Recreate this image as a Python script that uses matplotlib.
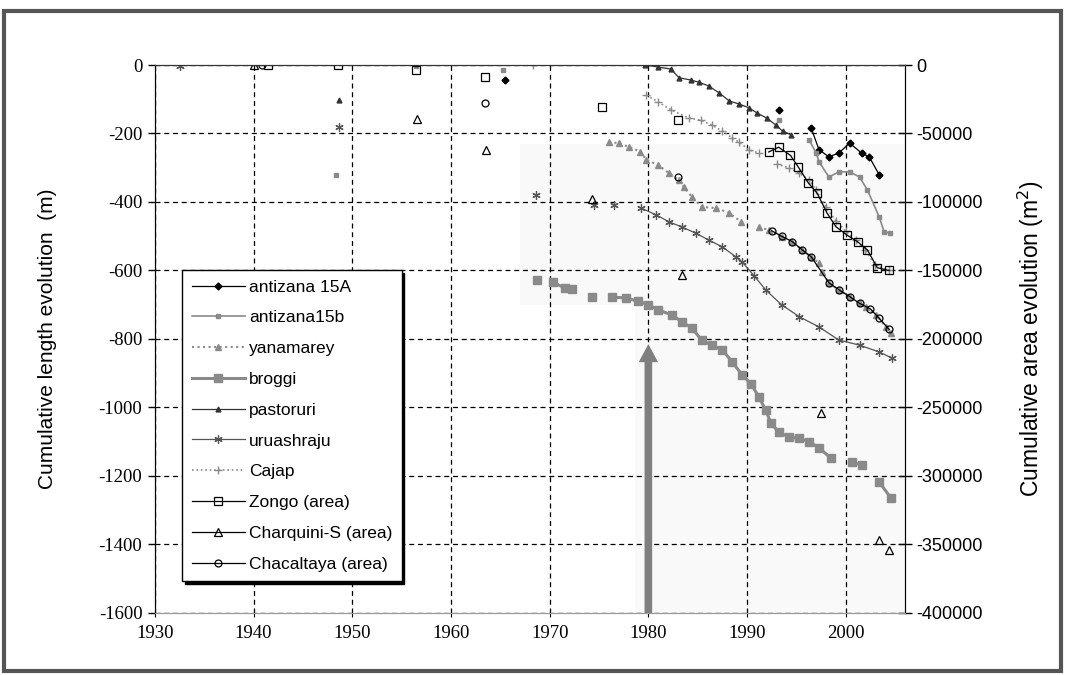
import numpy as np
import matplotlib
matplotlib.use("Agg")
import matplotlib.pyplot as plt
import matplotlib.patches as patches

nan = np.nan

# --- length series (m), nan = gap in the line ---
antizana15a_year = [1965.5, nan, 1993.2, nan, 1996.5, 1997.3, 1998.3, 1999.3, 2000.4, 2001.6, 2002.4, 2003.4]
antizana15a_len = [-44, nan, -131, nan, -184, -248, -268, -257, -228, -257, -269, -321]

antizana15b_year = [1948.3, nan, 1956.5, nan, 1965.3, nan, 1993.2, nan,
                    1996.3, 1997.0, 1997.3, 1998.3, 1999.3, 2000.4, 2001.4, 2002.2, 2003.4, 2003.9, 2004.5]
antizana15b_len = [-321, nan, -3, nan, -15, nan, -161, nan,
                   -219, -257, -283, -327, -312, -312, -327, -365, -444, -488, -490]

yanamarey_year = [1976.0, 1977.0, 1978.0, 1979.2, 1979.8, 1981.0, 1982.1, 1983.1, 1983.6, 1984.4,
                  1985.4, 1986.9, 1988.2, 1989.4, nan,
                  1991.2, 1992.2, 1993.5, 1994.6, 1995.6, 1996.5, 1997.3, 1997.6, 1998.3, 1999.3,
                  2000.4, 2001.4, 2002.1, 2003.1, 2004.1, 2004.6]
yanamarey_len = [-225, -228, -239, -253, -277, -292, -316, -336, -356, -385,
                 -414, -418, -432, -458, nan,
                 -473, -482, -502, -517, -540, -561, -578, -604, -637, -657,
                 -677, -695, -706, -730, -765, -783]

broggi_year = [1968.7, nan, 1970.3, 1971.6, 1972.3, nan, 1974.3, nan, 1976.3, 1977.7, 1979.0, 1980.0,
               1981.0, 1982.4, 1983.4, 1984.4, 1985.4, 1986.4, 1987.5, 1988.5, 1989.5, 1990.4,
               1991.2, 1991.9, 1992.4, 1993.2, 1994.3, 1995.3, 1996.3, 1997.3, 1998.5, nan,
               2000.6, 2001.6, nan, 2003.4, 2004.6]
broggi_len = [-628, nan, -634, -652, -655, nan, -677, nan, -678, -680, -690, -700,
              -715, -730, -750, -768, -803, -818, -832, -867, -905, -930,
              -970, -1008, -1045, -1072, -1086, -1090, -1100, -1118, -1148, nan,
              -1160, -1168, nan, -1218, -1265]

pastoruri_year = [1948.6, nan, 1979.7, 1981.0, 1982.3, 1983.1, 1984.3, 1985.1, 1986.1, 1987.2,
                  1988.2, 1989.2, 1990.2, 1991.0, 1992.0, 1992.9, 1993.6, 1994.5]
pastoruri_len = [-102, nan, 0, -6, -12, -37, -44, -50, -61, -82,
                 -105, -114, -125, -140, -155, -175, -193, -204]

uruashraju_year = [1932.5, nan, 1948.6, nan, 1968.6, nan, 1974.5, nan, 1976.5, nan,
                   1979.3, 1980.8, 1982.1, 1983.4, 1984.8, 1986.1, 1987.5, 1988.9, 1989.5, 1990.7,
                   1991.9, 1993.5, 1995.3, 1997.3, 1999.3, 2001.4, 2003.4, 2004.7]
uruashraju_len = [-3, nan, -182, nan, -380, nan, -410, nan, -409, nan,
                  -418, -438, -458, -473, -491, -511, -531, -561, -575, -615,
                  -657, -700, -735, -765, -803, -818, -838, -856]

cajap_year = [1968.3, nan, 1979.8, 1981.0, 1982.3, 1984.1, 1985.3, 1986.4, 1987.5, 1988.5, 1989.2,
              1990.2, 1991.2, nan, 1993.0, 1994.3, 1995.3, 1996.3, 1997.0, 1998.0, 1999.0, 2000.0,
              2001.0, 2002.0, 2003.0, 2004.4]
cajap_len = [0, nan, -88, -108, -131, -155, -161, -175, -193, -213, -225,
             -248, -257, nan, -289, -301, -316, -336, -365, -415, -455, -485,
             -512, -540, -585, -600]

# --- area series (m2) ---
zongo_year = [1941.5, nan, 1948.5, nan, 1956.5, nan, 1963.4, nan, 1975.3, nan, 1983.0, nan,
              1992.2, 1993.2, 1994.4, 1995.2, 1996.2, 1997.1, 1998.1, 1999.0, 2000.1, 2001.2,
              2002.2, 2003.2, 2004.4]
zongo_area = [0, nan, 0, nan, -3750, nan, -8750, nan, -30500, nan, -40000, nan,
              -63500, -60000, -66000, -74500, -86000, -93500, -108000, -118000, -124000, -129000,
              -135000, -148000, -150000]

charquini_year = [1940.0, nan, 1956.6, nan, 1963.5, nan, 1974.3, nan, 1983.4, nan, 1997.5, nan,
                  2003.4, nan, 2004.4]
charquini_area = [0, nan, -39500, nan, -62000, nan, -97500, nan, -153000, nan, -254000, nan,
                  -347000, nan, -354000]

chacaltaya_year = [1940.8, nan, 1963.4, nan, 1983.0, nan, 1992.5, 1993.5, 1994.6, 1995.6, 1996.5,
                   1998.3, 1999.3, 2000.4, 2001.4, 2002.5, 2003.4, 2004.4]
chacaltaya_area = [0, nan, -27750, nan, -82000, nan, -121000, -125000, -129000, -135000, -140000,
                   -159000, -164000, -169000, -174000, -178000, -185000, -193000]

plt.rcParams['font.family'] = ['Liberation Sans', 'DejaVu Sans']
plt.rcParams['axes.unicode_minus'] = False

fig = plt.figure(figsize=(10.65, 6.75), dpi=100)
ax = fig.add_axes([0.1455, 0.0919, 0.7042, 0.8118])
ax2 = ax.twinx()

gray = '#8a8a8a'

# faint pasted-image background
ax.add_patch(patches.Rectangle((1967, -700), 39, 470, facecolor='#f9f9f9', edgecolor='none', zorder=0))
ax.add_patch(patches.Rectangle((1978.6, -1600), 27.4, 900, facecolor='#f9f9f9', edgecolor='none', zorder=0))

lines = []
l, = ax.plot(antizana15a_year, antizana15a_len, '-', color='black', lw=0.9,
             marker='D', ms=3.5, label='antizana 15A')
lines.append(l)
l, = ax.plot(antizana15b_year, antizana15b_len, '-', color=gray, lw=1.2,
             marker='s', ms=3.5, label='antizana15b')
lines.append(l)
l, = ax.plot(yanamarey_year, yanamarey_len, ':', color=gray, lw=1.5,
             marker='^', ms=4.5, label='yanamarey')
lines.append(l)
l, = ax.plot(broggi_year, broggi_len, '-', color=gray, lw=2.2,
             marker='s', ms=5.5, label='broggi')
lines.append(l)
l, = ax.plot(pastoruri_year, pastoruri_len, '-', color='#333333', lw=0.9,
             marker='^', ms=3.5, label='pastoruri')
lines.append(l)
l, = ax.plot(uruashraju_year, uruashraju_len, '-', color='#555555', lw=0.9,
             marker=(6, 2, 0), ms=6, mew=0.9, label='uruashraju')
lines.append(l)
l, = ax.plot(cajap_year, cajap_len, ':', color=gray, lw=1.2,
             marker='+', ms=6, mew=1, label='Cajap')
lines.append(l)

l, = ax2.plot(zongo_year, zongo_area, '-', color='black', lw=0.9,
              marker='s', ms=5.5, mfc='none', mew=0.9, label='Zongo (area)')
lines.append(l)
l, = ax2.plot(charquini_year, charquini_area, '-', color='black', lw=0.9,
              marker='^', ms=6, mfc='none', mew=0.9, label='Charquini-S (area)')
lines.append(l)
l, = ax2.plot(chacaltaya_year, chacaltaya_area, '-', color='black', lw=0.9,
              marker='o', ms=5, mfc='none', mew=0.9, label='Chacaltaya (area)')
lines.append(l)

# big arrow at 1980
ax.annotate('', xy=(1980, -815), xytext=(1980, -1600),
            arrowprops=dict(width=5.5, headwidth=14, headlength=13, color='#7f7f7f', lw=0),
            zorder=1)

ax.set_xlim(1930, 2006)
ax.set_ylim(-1600, 0)
ax2.set_ylim(-400000, 0)
ax.set_xticks(np.arange(1930, 2001, 10))
ax.set_yticks(np.arange(-1600, 1, 200))
ax2.set_yticks(np.arange(-400000, 1, 50000))

ax.grid(True, color='black', linestyle=(0, (4, 3)), lw=0.9)
ax.set_axisbelow(True)

tick_font = dict(family='Liberation Serif', size=13.5)
for t in ax.get_xticklabels() + ax.get_yticklabels():
    t.set_fontproperties(tick_font)
for t in ax2.get_yticklabels():
    t.set_fontproperties(dict(family='Liberation Sans', size=13))
ax.tick_params(axis='y', direction='out', length=5, width=1, pad=4)
ax.tick_params(axis='x', direction='out', length=3, width=0.8, pad=6)
ax2.tick_params(axis='y', direction='inout', length=10, width=1, pad=3)

for a in (ax, ax2):
    a.spines['bottom'].set_color('#999999')
    a.spines['top'].set_color('#333333')

ax.set_ylabel('Cumulative length evolution  (m)', fontsize=15, labelpad=30)
ax2.set_ylabel('Cumulative area evolution (m$^2$)', fontsize=16.5, labelpad=24)

leg = ax2.legend(handles=lines, loc='upper left', bbox_to_anchor=(0.036, 0.626),
                 frameon=True, fancybox=False, shadow={'color': 'black', 'alpha': 1},
                 edgecolor='black', framealpha=1, fontsize=12.5,
                 handlelength=3.1, handletextpad=0.2, labelspacing=0.9,
                 borderpad=0.55, borderaxespad=0)
leg.get_frame().set_linewidth(1)

# scanned figure border
fig.add_artist(patches.Rectangle((0.004, 0.006), 0.992, 0.978, transform=fig.transFigure,
                                 fill=False, edgecolor='#555555', lw=3))

fig.savefig('out.png', dpi=100)
